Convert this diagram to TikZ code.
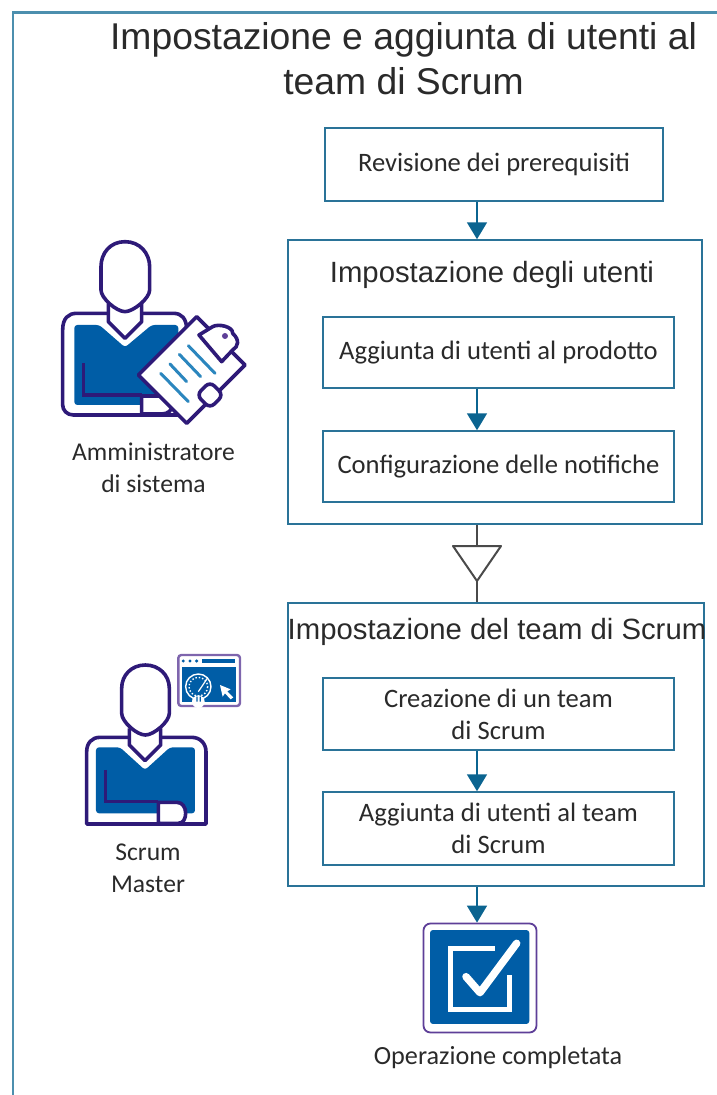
\documentclass[tikz,border=0pt]{standalone}
\usepackage{fontspec}
\setmainfont{Carlito}
\newfontfamily\headfont{Liberation Sans}
\usetikzlibrary{arrows.meta}
\definecolor{framec}{HTML}{4C8FAE}
\definecolor{boxc}{HTML}{2A7398}
\definecolor{arrowc}{HTML}{0B6490}
\definecolor{iconblue}{HTML}{005DA6}
\definecolor{iconline}{HTML}{2E1A78}
\definecolor{iconpurple}{HTML}{5E3F98}
\definecolor{cliplines}{HTML}{2B86BE}
\definecolor{mergec}{HTML}{4A4A4A}
\definecolor{textc}{HTML}{2A2A2A}
\tikzset{
  flowbox/.style={draw=boxc,line width=1.5pt,fill=white,inner sep=0pt,align=center,text=textc,font=\fontsize{26.6}{32}\selectfont},
  groupbox/.style={draw=boxc,line width=1.5pt,inner sep=0pt},
  flowarrow/.style={draw=arrowc,line width=1.8pt,-{Triangle[length=17pt,width=20pt,fill=arrowc]}},
  mergeline/.style={draw=mergec,line width=2pt},
  headtext/.style={font=\headfont\fontsize{29.3}{32}\selectfont,text=textc,inner sep=0pt},
  roletext/.style={align=center,text=textc,inner sep=0pt,font=\fontsize{25.6}{32}\selectfont},
  iconstroke/.style={draw=iconline,line width=3.6pt,line join=round},
  zoomone/.style={shift={(40,230)},x=0.3333pt,y=-0.3333pt},
  zoomtwo/.style={shift={(70,650)},x=0.3333pt,y=-0.3333pt},
  zoomthree/.style={shift={(400,880)},x=0.3333pt,y=-0.3333pt},
}
\begin{document}
\begin{tikzpicture}[x=1pt,y=-1pt]
\useasboundingbox (0,0) rectangle (717,1095);
% page frame
\draw[framec,line width=2.6pt] (13,1095) -- (13,12.5) -- (717,12.5);
% title
\node[font=\headfont\fontsize{37.3}{45}\selectfont,text=textc,align=center,inner sep=0pt] (title) at (403.5,59) {Impostazione e aggiunta di utenti al\\team di Scrum};
% flow axis
\coordinate (axis) at (477,0);
% boxes
\node[flowbox,minimum width=338pt,minimum height=73pt] (rev) at (494,164.5) {\raisebox{-1pt}{Revisione dei prerequisiti}};
\node[groupbox,minimum width=414pt,minimum height=284pt] (grpa) at (495,382) {};
\node[headtext] (grpatitle) at (492,274.5) {Impostazione degli utenti};
\node[flowbox,minimum width=351pt,minimum height=71pt] (adda) at (498.5,352.5) {\raisebox{-1pt}{Aggiunta di utenti al prodotto}};
\node[flowbox,minimum width=351pt,minimum height=71pt] (conf) at (498.5,466.5) {\raisebox{-1pt}{Configurazione delle notifiche}};
\node[groupbox,minimum width=416pt,minimum height=283pt] (grpb) at (496,744.5) {};
\node[headtext] (grpbtitle) at (497,632) {Impostazione del team di Scrum};
\node[flowbox,minimum width=351pt,minimum height=72pt] (crea) at (498.5,714) {Creazione di un team\\di Scrum};
\node[flowbox,minimum width=351pt,minimum height=73pt] (addb) at (498.5,828.5) {Aggiunta di utenti al team\\di Scrum};
% done icon
\node[draw=iconpurple,line width=1.8pt,fill=white,rounded corners=7pt,minimum width=113pt,minimum height=109pt,inner sep=0pt] (done) at (480,978) {};
\begin{scope}[zoomthree]
  \fill[iconblue,rounded corners=3pt] (90,150) rectangle (388,432);
  \draw[white,line width=5pt] (285,205) -- (150,205) -- (150,388) -- (330,388) -- (330,285);
  \draw[white,line width=7.5pt,line cap=round,line join=round] (198,290) -- (240,338) -- (350,190);
\end{scope}
\node[text=textc,inner sep=0pt,font=\fontsize{26.2}{32}\selectfont] (donetext) at (498,1058) {Operazione completata};
% connectors
\draw[flowarrow] (rev.south -| axis) -- (grpa.north -| axis);
\draw[flowarrow] (adda.south -| axis) -- (conf.north -| axis);
\draw[flowarrow] (crea.south -| axis) -- (addb.north -| axis);
\draw[flowarrow] (grpb.south -| axis) -- (done.north -| axis);
% merge triangle
\coordinate (mergetop) at (477,546);
\coordinate (mergeleft) at (453,546);
\coordinate (mergeright) at (501,546);
\coordinate (mergetip) at (477,581);
\draw[mergeline] (grpa.south -| axis) -- (mergetop);
\draw[mergeline,line join=round] (mergeleft) -- (mergeright) -- (mergetip) -- cycle;
\draw[mergeline] (mergetip) -- (grpb.north -| axis);
% administrator
\begin{scope}[zoomone]
  \draw[iconstroke,fill=white] (400,555) -- (100,555) .. controls (80,555) and (68,540) .. (68,525) -- (68,300) .. controls (68,265) and (85,250) .. (110,250) -- (400,250) .. controls (425,250) and (440,265) .. (440,300) -- (440,555) -- cycle;
  \fill[iconblue,rounded corners=3pt] (103,525) -- (103,285) -- (178,285) -- (255,352) -- (335,285) -- (415,285) -- (415,525) -- cycle;
  \draw[iconstroke,fill=white] (205,220) -- (205,275) -- (255,325) -- (305,275) -- (305,220);
  \draw[iconstroke,fill=white] (255,35) .. controls (210,35) and (183,70) .. (183,110) -- (183,180) .. controls (183,205) and (230,245) .. (255,245) .. controls (280,245) and (329,205) .. (329,180) -- (329,110) .. controls (329,70) and (300,35) .. (255,35) -- cycle;
  \draw[iconstroke,fill=white] (305,552) -- (305,498) -- (365,498) .. controls (385,498) and (397,510) .. (397,525) .. controls (397,540) and (385,552) .. (365,552) -- cycle;
  \draw[iconline,line width=3.6pt,line join=miter] (130,400) -- (130,495) -- (305,495);
  % clipboard
  \draw[iconstroke,fill=white] (295,435) -- (470,260) -- (615,405) -- (440,580) -- cycle;
  \draw[iconstroke,fill=white] (477,315) -- (518,290) .. controls (535,280) and (580,290) .. (578,310) .. controls (600,330) and (595,350) .. (578,360) -- (545,395) -- cycle;
  \fill[iconpurple] (555,318) circle (9);
  \draw[iconstroke,fill=white,rounded corners=6pt] (510,455) -- (550,495) -- (510,535) -- (470,495) -- cycle;
  \draw[cliplines,line width=3pt,line cap=round] (445,347) -- (525,430);
  \draw[cliplines,line width=3pt,line cap=round] (418,373) -- (482,440);
  \draw[cliplines,line width=3pt,line cap=round] (390,402) -- (440,455);
  \draw[cliplines,line width=3pt,line cap=round] (362,430) -- (445,515);
\end{scope}
\node[roletext] (admintext) at (153.5,467.5) {Amministratore\\di sistema};
% scrum master
\begin{scope}[zoomtwo]
  \draw[iconstroke,fill=white] (50,522) -- (50,305) .. controls (50,280) and (65,262) .. (90,262) -- (365,262) .. controls (390,262) and (408,280) .. (408,305) -- (408,522) -- cycle;
  \fill[iconblue,rounded corners=3pt] (78,490) -- (78,292) -- (150,292) -- (225,360) -- (300,292) -- (375,292) -- (375,490) -- cycle;
  \draw[iconstroke,fill=white] (178,235) -- (178,285) -- (225,332) -- (272,285) -- (272,235);
  \draw[iconstroke,fill=white] (226,45) .. controls (185,45) and (155,75) .. (155,115) -- (155,190) .. controls (155,215) and (200,255) .. (226,255) .. controls (252,255) and (298,215) .. (298,190) -- (298,115) .. controls (298,75) and (267,45) .. (226,45) -- cycle;
  \draw[iconstroke,fill=white] (265,520) -- (265,457) -- (320,457) .. controls (338,457) and (347,472) .. (347,490) .. controls (347,505) and (340,520) .. (325,520) -- cycle;
  \draw[iconline,line width=3.6pt] (107,360) -- (107,455) -- (265,455);
  % browser window
  \draw[draw=iconpurple!80,line width=2.4pt,fill=white,rounded corners=3pt] (325,15) rectangle (510,168);
  \fill[iconblue] (335,50) rectangle (497,155);
  \fill[iconblue] (340,33) circle (5) (360,33) circle (5) (380,33) circle (5);
  \fill[iconblue] (395,28) rectangle (495,38);
  \draw[white,line width=1.4pt] (385,110) circle (38);
  \draw[white,line width=1.4pt,dotted] (385,110) circle (28);
  \draw[white,line width=1.2pt] (385,125) -- (412,85);
  \fill[white] (385,155) circle (19);
  \fill[iconblue] (379,140) rectangle (383,155) (389,140) rectangle (393,155);
  \fill[white] (450,105) -- (482,118) -- (472,124) -- (490,142) -- (482,148) -- (465,130) -- (458,140) -- cycle;
\end{scope}
\node[roletext] (scrumtext) at (148,868.5) {Scrum\\Master};
\end{tikzpicture}
\end{document}
